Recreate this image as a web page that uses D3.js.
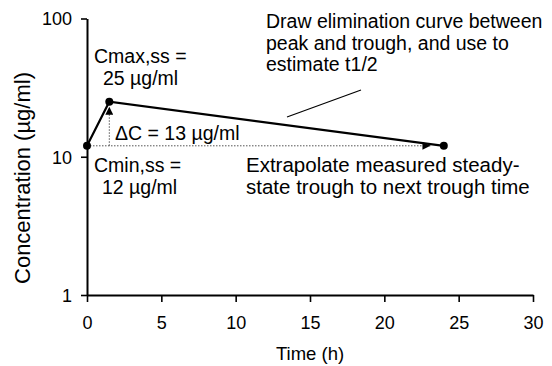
<!DOCTYPE html>
<html>
<head>
<meta charset="utf-8">
<script src="https://cdn.jsdelivr.net/npm/d3@7"></script>
<style>
  body { margin: 0; background: #fff; }
  text { font-family: "Liberation Sans", Arial, Helvetica, sans-serif; fill: #000; }
</style>
</head>
<body>
<svg id="vis" width="552" height="366"></svg>
<script>
// measured points (time in h, conc in ug/ml)
let timeH = [0, 1.5, 24];
let conc = [12, 25, 12];
let xTicks = [0, 5, 10, 15, 20, 25, 30];
let yTicks = [1, 10, 100];
let troughVal = 12;
let peakTime = 1.5;
let peakVal = 25;
let extrapTime = 23.1;

let svg = d3.select("#vis");

let x = d3.scaleLinear().domain([0, 30]).range([87, 533]);
let y = d3.scaleLog().domain([1, 100]).range([295, 18.5]);

// arrow marker
svg.append("defs").append("marker")
    .attr("id", "tri")
    .attr("viewBox", "0 0 10 10")
    .attr("refX", 10)
    .attr("refY", 5)
    .attr("markerWidth", 9)
    .attr("markerHeight", 8)
    .attr("markerUnits", "userSpaceOnUse")
    .attr("orient", "auto")
    .append("path")
    .attr("d", "M0,0 L10,5 L0,10 z")
    .attr("fill", "#000");

// axes
let xAxis = svg.append("g")
    .attr("transform", `translate(0, ${y(1)})`)
    .call(d3.axisBottom(x).tickValues(xTicks).tickSize(7).tickSizeOuter(0).tickPadding(14));
let yAxis = svg.append("g")
    .attr("transform", `translate(${x(0)}, 0)`)
    .call(d3.axisLeft(y).tickValues(yTicks).tickFormat(d3.format("d")).tickSize(6).tickSizeOuter(0).tickPadding(9));

[xAxis, yAxis].forEach(a => {
    a.select(".domain").attr("stroke", "#000").attr("stroke-width", 2);
    a.selectAll(".tick line").attr("stroke", "#000").attr("stroke-width", 1.6);
    a.selectAll(".tick text").attr("font-size", 18).attr("fill", "#000")
        .style("font-family", "'Liberation Sans', Arial, sans-serif");
});
yAxis.selectAll(".tick text").attr("dy", "0.36em");

svg.append("text")
    .attr("x", (x(0) + x(30)) / 2)
    .attr("y", 360)
    .attr("text-anchor", "middle")
    .attr("font-size", 18.5)
    .text("Time (h)");

svg.append("text")
    .attr("transform", `translate(30, 178) rotate(-90)`)
    .attr("text-anchor", "middle")
    .attr("font-size", 22)
    .text("Concentration (\u00b5g/ml)");

// dotted guides
svg.append("line")
    .attr("x1", x(0)).attr("y1", y(troughVal))
    .attr("x2", x(extrapTime)).attr("y2", y(troughVal))
    .attr("stroke", "#555").attr("stroke-width", 1)
    .attr("stroke-dasharray", "1.5,1.5")
    .attr("marker-end", "url(#tri)");
svg.append("line")
    .attr("x1", x(peakTime)).attr("y1", y(troughVal))
    .attr("x2", x(peakTime)).attr("y2", y(peakVal) + 5)
    .attr("stroke", "#555").attr("stroke-width", 1)
    .attr("stroke-dasharray", "1.5,1.5")
    .attr("marker-end", "url(#tri)");

// concentration line
let pts = timeH.map((t, i) => [t, conc[i]]);
svg.append("path")
    .datum(pts)
    .attr("fill", "none")
    .attr("stroke", "#000")
    .attr("stroke-width", 2.2)
    .attr("d", d3.line().x(d => x(d[0])).y(d => y(d[1])));

svg.selectAll(".dot")
    .data(pts)
    .enter().append("circle")
    .attr("class", "dot")
    .attr("cx", d => x(d[0]))
    .attr("cy", d => y(d[1]))
    .attr("r", 4)
    .attr("fill", "#000");

// pointer line for the elimination note
svg.append("line")
    .attr("x1", 287).attr("y1", 117)
    .attr("x2", 361).attr("y2", 90)
    .attr("stroke", "#000").attr("stroke-width", 1.2);

// annotations
function note(lines, x0, y0, dx2, fs) {
    let t = svg.append("text").attr("font-size", fs || 19.5);
    lines.forEach((s, i) => {
        t.append("tspan")
            .attr("x", x0 + (i > 0 ? (dx2 || 0) : 0))
            .attr("y", y0 + i * 21.5)
            .text(s);
    });
}
note(["Draw elimination curve between", "peak and trough, and use to", "estimate t1/2"], 266, 28, 0, 19.5);
note(["Cmax,ss =", "25 \u00b5g/ml"], 94, 63, 9);
note(["\u0394C = 13 \u00b5g/ml"], 115, 140, 0);
note(["Cmin,ss =", "12 \u00b5g/ml"], 94, 172, 8);
note(["Extrapolate measured steady-", "state trough to next trough time"], 246, 172, 0, 20.5);
</script>
</body>
</html>
